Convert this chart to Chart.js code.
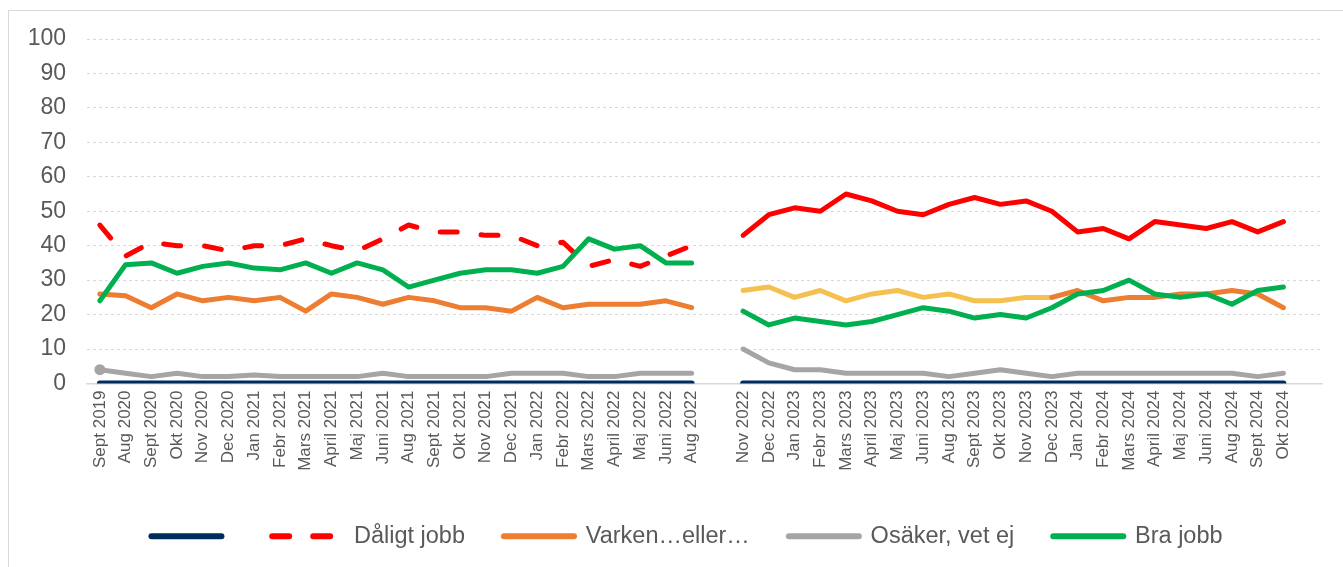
<!DOCTYPE html>
<html><head><meta charset="utf-8">
<script src="https://cdn.jsdelivr.net/npm/chart.js@4"></script>
<style>
html,body{margin:0;padding:0;background:#fff;}
#wrap{position:relative;width:1343px;height:567px;overflow:hidden;}
#frame{position:absolute;left:8px;top:10px;width:1400px;height:700px;border:1px solid #d9d9d9;box-sizing:border-box;}
canvas{position:absolute;left:0;top:0;}
</style></head><body>
<div id="wrap"><div id="frame"></div><canvas id="c" width="1343" height="567"></canvas></div>
<script>
// Categories
const leftMonths = ['Sept 2019','Aug 2020','Sept 2020','Okt 2020','Nov 2020','Dec 2020','Jan 2021','Febr 2021','Mars 2021','April 2021','Maj 2021','Juni 2021','Aug 2021','Sept 2021','Okt 2021','Nov 2021','Dec 2021','Jan 2022','Febr 2022','Mars 2022','April 2022','Maj 2022','Juni 2022','Aug 2022'];
const rightMonths = ['Nov 2022','Dec 2022','Jan 2023','Febr 2023','Mars 2023','April 2023','Maj 2023','Juni 2023','Aug 2023','Sept 2023','Okt 2023','Nov 2023','Dec 2023','Jan 2024','Febr 2024','Mars 2024','April 2024','Maj 2024','Juni 2024','Aug 2024','Sept 2024','Okt 2024'];
const yTicks = [0,10,20,30,40,50,60,70,80,90,100];

// Series – first period (Sept 2019 – Aug 2022)
const baselineLeft = [0,0,0,0,0,0,0,0,0,0,0,0,0,0,0,0,0,0,0,0,0,0,0,0];
const badLeft      = [46,37,41,40,40,38.5,40,40,42,40,38.5,42,46,44,44,43,43,40,41,34,36,34,37,40];
const neitherLeft  = [26,25.5,22,26,24,25,24,25,21,26,25,23,25,24,22,22,21,25,22,23,23,23,24,22];
const unsureLeft   = [4,3,2,3,2,2,2.5,2,2,2,2,3,2,2,2,2,3,3,3,2,2,3,3,3];
const goodLeft     = [24,34.5,35,32,34,35,33.5,33,35,32,35,33,28,30,32,33,33,32,34,42,39,40,35,35];

// Series – second period (Nov 2022 – Okt 2024)
const baselineRight = [0,0,0,0,0,0,0,0,0,0,0,0,0,0,0,0,0,0,0,0,0,0];
const badRight      = [43,49,51,50,55,53,50,49,52,54,52,53,50,44,45,42,47,46,45,47,44,47];
const neitherEarly  = [27,28,25,27,24,26,27,25,26,24,24,25,25];          // Nov 2022 – Dec 2023
const neitherLate   = [25,27,24,25,25,26,26,27,26,22];                    // Dec 2023 – Okt 2024
const unsureRight   = [10,6,4,4,3,3,3,3,2,3,4,3,2,3,3,3,3,3,3,3,2,3];
const goodRight     = [21,17,19,18,17,18,20,22,21,19,20,19,22,26,27,30,26,25,26,23,27,28];

const labels = [...leftMonths, '', ...rightMonths, ''];
const N = labels.length;
const R0 = leftMonths.length + 1;
const lateStart = R0 + rightMonths.indexOf('Dec 2023');

function place(values, start){ const a = new Array(N).fill(null); values.forEach((v,i)=>{a[start+i]=v;}); return a; }
function merge(a,b){ return a.map((v,i)=> v!==null ? v : b[i]); }

const FONT = "'Liberation Sans', Arial, sans-serif";
Chart.defaults.font.family = FONT;
Chart.defaults.color = '#595959';

const common = {fill:false, tension:0, pointRadius:0, borderWidth:5, borderCapStyle:'round', borderJoinStyle:'round', spanGaps:false};

const datasets = [
  {...common, label:'', data: merge(place(baselineLeft,0), place(baselineRight,R0)), borderColor:'#002B5C', backgroundColor:'#002B5C', borderWidth:6, order:6},
  {...common, label:'Dåligt jobb', data: place(badLeft,0), borderColor:'#FF0000', backgroundColor:'#FF0000', borderDash:[17,24], order:5},
  {...common, label:'Dåligt jobb 2022–2024', hideInLegend:true, data: place(badRight,R0), borderColor:'#FF0000', backgroundColor:'#FF0000', order:5},
  {...common, label:'Varken…eller…', data: merge(place(neitherLeft,0), place(neitherLate,lateStart)), borderColor:'#ED7D31', backgroundColor:'#ED7D31', order:4},
  {...common, label:'Varken…eller… 2022–2023', hideInLegend:true, data: place(neitherEarly,R0), borderColor:'#F4C150', backgroundColor:'#F4C150', order:4},
  {...common, label:'Osäker, vet ej', data: merge(place(unsureLeft,0), place(unsureRight,R0)), borderColor:'#A5A5A5', backgroundColor:'#A5A5A5',
     pointRadius: c => c.dataIndex===0 ? 5.5 : 0, pointBackgroundColor:'#A5A5A5', pointBorderWidth:0, order:3},
  {...common, label:'Bra jobb', data: merge(place(goodLeft,0), place(goodRight,R0)), borderColor:'#00B050', backgroundColor:'#00B050', order:1}
];

const legendShift = { id:'legendShift', afterLayout(chart){ if(chart.legend){ chart.legend.left += 26; chart.legend.right += 26; } } };

new Chart(document.getElementById('c'), {
  type:'line',
  data:{labels, datasets},
  options:{
    responsive:false, animation:false, events:[],
    layout:{padding:{left:0,right:21,top:39,bottom:9}},
    scales:{
      x:{ offset:true,
          grid:{display:false, drawTicks:false},
          border:{display:true, color:'#d9d9d9', width:1.5},
          ticks:{autoSkip:false, maxRotation:90, minRotation:90, padding:7, color:'#595959', font:{size:17}},
          afterFit(s){ s.height = 102; } },
      y:{ min:yTicks[0], max:yTicks[yTicks.length-1],
          afterBuildTicks(s){ s.ticks = yTicks.map(v=>({value:v})); },
          grid:{color:c => c.tick && c.tick.value===0 ? 'rgba(0,0,0,0)' : '#d9d9d9', lineWidth:1, drawTicks:false},
          border:{display:false, dash:[3,3]},
          ticks:{padding:21, color:'#595959', font:{size:23}},
          afterFit(s){ s.width = 87; } }
    },
    plugins:{
      tooltip:{enabled:false},
      legend:{position:'bottom',
        labels:{usePointStyle:true, pointStyle:'line', pointStyleWidth:70, padding:39, color:'#595959', font:{size:23.5},
          generateLabels(chart){
            return chart.data.datasets.map((ds,i)=>({text:ds.label, strokeStyle:ds.borderColor, fillStyle:ds.borderColor,
              lineWidth:6, lineDash:ds.borderDash||[], lineCap:'round', pointStyle:'line', hidden:false, datasetIndex:i, fontColor:'#595959'}))
              .filter(it=>!chart.data.datasets[it.datasetIndex].hideInLegend);
          }}}
    }
  },
  plugins:[legendShift]
});
</script></body></html>
